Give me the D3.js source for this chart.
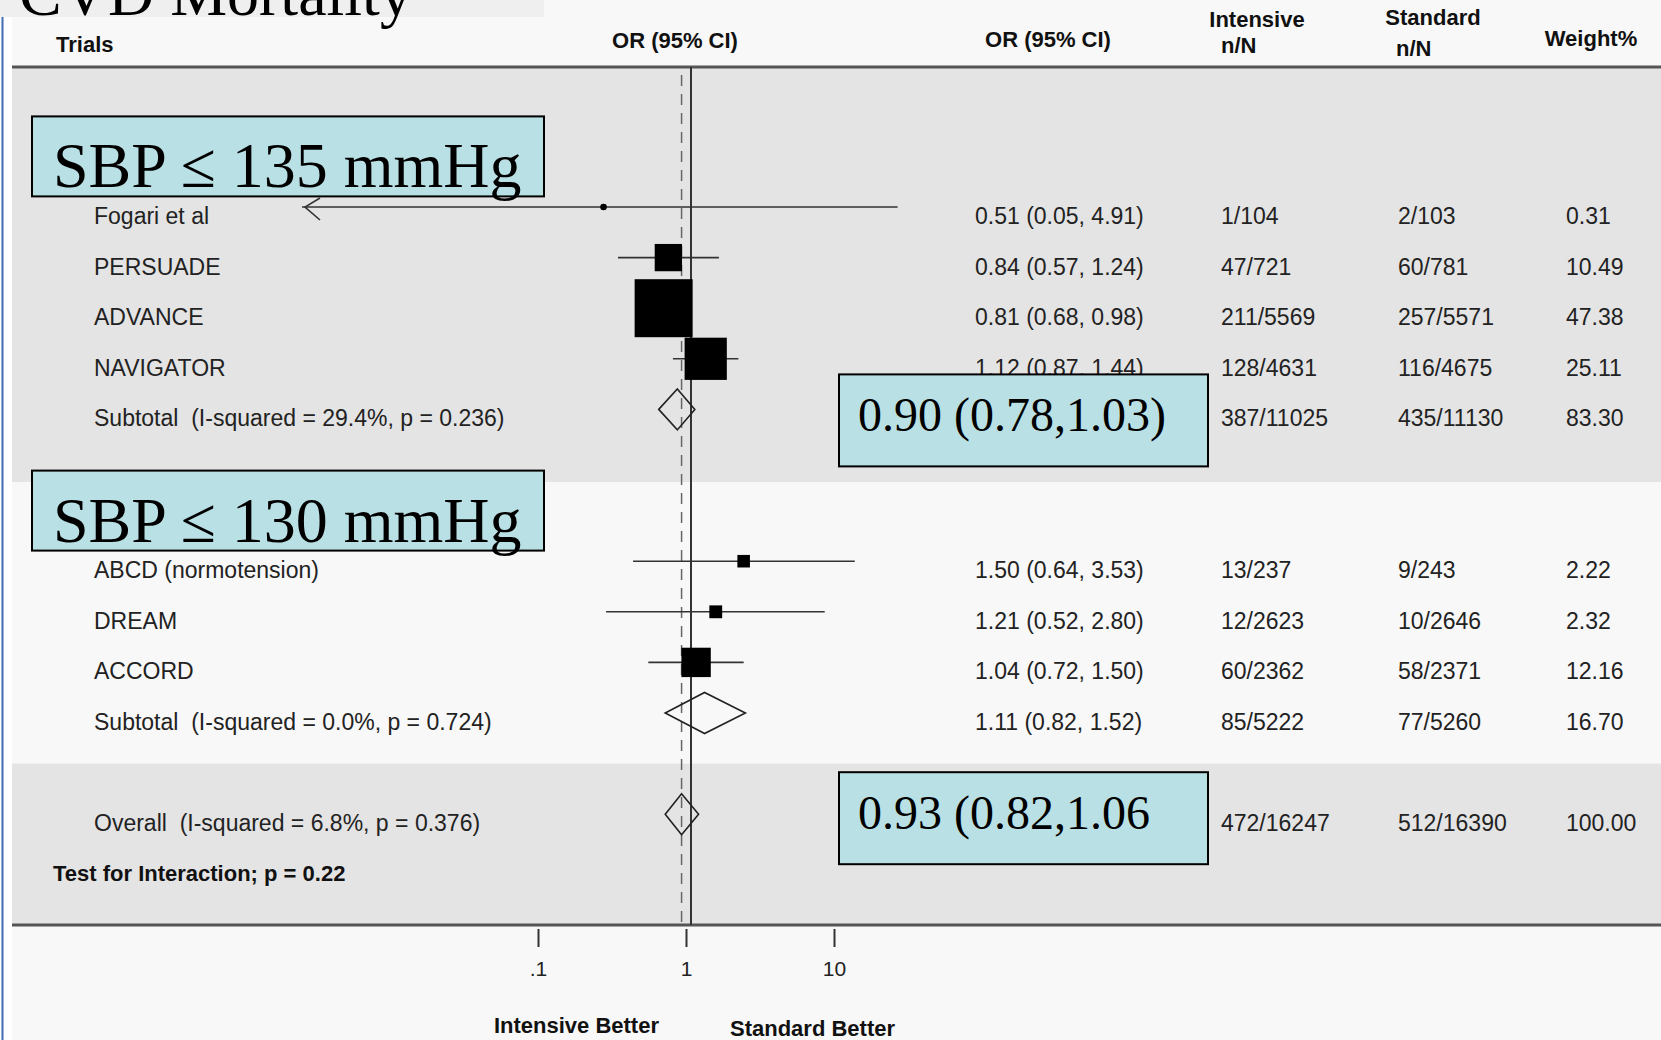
<!DOCTYPE html>
<html>
<head>
<meta charset="utf-8">
<script src="https://cdn.jsdelivr.net/npm/d3@7"></script>
<style>
body{margin:0;background:#fff;}
svg{display:block;}
text{white-space:pre;}
.lbl{font-family:'Liberation Sans',Arial,sans-serif;font-size:23px;fill:#222;}
.hdr{font-family:'Liberation Sans',Arial,sans-serif;font-size:22px;font-weight:bold;fill:#111;}
.serif{font-family:'Liberation Serif','Times New Roman',serif;fill:#000;}
</style>
</head>
<body>
<div id="chart"></div>
<script>
// trials, top to bottom
var trials = ['Fogari et al','PERSUADE','ADVANCE','NAVIGATOR','ABCD (normotension)','DREAM','ACCORD'];
var trialGroup = [0,0,0,0,1,1,1];
var orEst = [0.51,0.84,0.81,1.12,1.50,1.21,1.04];
var orLow = [0.05,0.57,0.68,0.87,0.64,0.52,0.72];
var orHigh = [4.91,1.24,0.98,1.44,3.53,2.80,1.50];
var intensiveN = ['1/104','47/721','211/5569','128/4631','13/237','12/2623','60/2362'];
var standardN = ['2/103','60/781','257/5571','116/4675','9/243','10/2646','58/2371'];
var weights = [0.31,10.49,47.38,25.11,2.22,2.32,12.16];

// pooled rows: subtotal 1, subtotal 2, overall
var pooledLabels = ['Subtotal  (I-squared = 29.4%, p = 0.236)','Subtotal  (I-squared = 0.0%, p = 0.724)','Overall  (I-squared = 6.8%, p = 0.376)'];
var pooledEst = [0.90,1.11,0.93];
var pooledLow = [0.78,0.82,0.82];
var pooledHigh = [1.03,1.52,1.06];
var pooledIntensive = ['387/11025','85/5222','472/16247'];
var pooledStandard = ['435/11130','77/5260','512/16390'];
var pooledWeight = [83.30,16.70,100.00];

var groupTitles = ['SBP \u2264 135 mmHg','SBP \u2264 130 mmHg'];
var callouts = ['0.90 (0.78,1.03)', null, '0.93 (0.82,1.06'];
var interactionText = 'Test for Interaction; p = 0.22';
var axisTicks = [0.1,1,10];
var tickLabels = ['.1','1','10'];

var W = 1661, H = 1040;
var svg = d3.select('#chart').append('svg').attr('width',W).attr('height',H);

// row order (spacer rows hold the group title boxes)
var rowKeys = ['g0','t0','t1','t2','t3','p0','gap','g1','t4','t5','t6','p1','gap2','p2','test'];
var y = d3.scalePoint().domain(rowKeys).range([156.4,864.8]);
var xData = d3.scaleLog().domain([0.1,10]).range([392,990]);
var xAxis = d3.scaleLog().domain([0.1,10]).range([538,834]);
var size = d3.scaleSqrt().domain([0,d3.max(weights)]).range([0,58]);
var fmt = d3.format('.2f');
var orText = function(e,l,h){ return fmt(e)+' ('+fmt(l)+', '+fmt(h)+')'; };

// backgrounds
svg.append('rect').attr('x',12).attr('y',0).attr('width',W-12).attr('height',H).attr('fill','#f8f8f8');
var headY = 67, axisY = 925;
svg.append('rect').attr('x',12).attr('y',headY).attr('width',W-12).attr('height',y('gap')+22-headY).attr('fill','#e4e4e4');
svg.append('rect').attr('x',12).attr('y',y('gap2')).attr('width',W-12).attr('height',axisY-y('gap2')).attr('fill','#e4e4e4');
svg.append('line').attr('x1',12).attr('x2',W).attr('y1',headY).attr('y2',headY).attr('stroke','#555').attr('stroke-width',3);
svg.append('line').attr('x1',12).attr('x2',W).attr('y1',axisY).attr('y2',axisY).attr('stroke','#555').attr('stroke-width',3);

// title strip
svg.append('rect').attr('x',0).attr('y',0).attr('width',544).attr('height',17).attr('fill','#efefef');
svg.append('text').attr('class','serif').attr('x',19).attr('y',15).attr('font-size',64).text('CVD Mortality');
svg.append('line').attr('x1',2.5).attr('x2',2.5).attr('y1',17).attr('y2',H).attr('stroke','#3f6cb5').attr('stroke-width',2);

// headers
svg.append('text').attr('class','hdr').attr('x',56).attr('y',52).text('Trials');
svg.append('text').attr('class','hdr').attr('x',675).attr('y',48).attr('text-anchor','middle').text('OR (95% CI)');
svg.append('text').attr('class','hdr').attr('x',1048).attr('y',47).attr('text-anchor','middle').text('OR (95% CI)');
svg.append('text').attr('class','hdr').attr('x',1257).attr('y',27).attr('text-anchor','middle').text('Intensive');
svg.append('text').attr('class','hdr').attr('x',1221).attr('y',53).text('n/N');
svg.append('text').attr('class','hdr').attr('x',1433).attr('y',25).attr('text-anchor','middle').text('Standard');
svg.append('text').attr('class','hdr').attr('x',1396).attr('y',56).text('n/N');
svg.append('text').attr('class','hdr').attr('x',1591).attr('y',46).attr('text-anchor','middle').text('Weight%');

// reference lines
svg.append('line').attr('x1',xData(1)).attr('x2',xData(1)).attr('y1',headY).attr('y2',axisY).attr('stroke','#333').attr('stroke-width',2);
svg.append('line').attr('x1',xData(pooledEst[2])).attr('x2',xData(pooledEst[2])).attr('y1',headY+8).attr('y2',axisY)
  .attr('stroke','#666').attr('stroke-width',1.5).attr('stroke-dasharray','11,8');

// trial rows
var rows = trials.map(function(t,i){
  return {label:t, key:'t'+i, est:orEst[i], lo:orLow[i], hi:orHigh[i], n1:intensiveN[i], n2:standardN[i], w:weights[i], g:trialGroup[i]};
});
var tr = svg.selectAll('g.trial').data(rows).enter().append('g').attr('class','trial');
tr.append('line').attr('x1',function(d){return xData(d.lo);}).attr('x2',function(d){return xData(d.hi);})
  .attr('y1',function(d){return y(d.key);}).attr('y2',function(d){return y(d.key);})
  .attr('stroke','#333').attr('stroke-width',1.6);
tr.filter(function(d){return d.lo < xData.domain()[0];}).append('path')
  .attr('d',function(d){var x0=xData(d.lo)+3, yy=y(d.key); return 'M'+(x0+15)+','+(yy-9)+'L'+x0+','+yy+'L'+(x0+15)+','+(yy+13);})
  .attr('fill','none').attr('stroke','#333').attr('stroke-width',1.6);
tr.append('rect').attr('x',function(d){return xData(d.est)-size(d.w)/2;}).attr('y',function(d){return y(d.key)-size(d.w)/2;})
  .attr('width',function(d){return size(d.w);}).attr('height',function(d){return size(d.w);}).attr('fill','#000');
tr.append('circle').attr('cx',function(d){return xData(d.est);}).attr('cy',function(d){return y(d.key);}).attr('r',3.3).attr('fill','#000');
tr.append('text').attr('class','lbl').attr('x',94).attr('y',function(d){return y(d.key)+17;}).text(function(d){return d.label;});
tr.append('text').attr('class','lbl').attr('x',975).attr('y',function(d){return y(d.key)+17;}).text(function(d){return orText(d.est,d.lo,d.hi);});
tr.append('text').attr('class','lbl').attr('x',1221).attr('y',function(d){return y(d.key)+17;}).text(function(d){return d.n1;});
tr.append('text').attr('class','lbl').attr('x',1398).attr('y',function(d){return y(d.key)+17;}).text(function(d){return d.n2;});
tr.append('text').attr('class','lbl').attr('x',1566).attr('y',function(d){return y(d.key)+17;}).text(function(d){return fmt(d.w);});

// pooled rows
var pooled = pooledLabels.map(function(t,i){
  return {label:t, key:'p'+i, est:pooledEst[i], lo:pooledLow[i], hi:pooledHigh[i], n1:pooledIntensive[i], n2:pooledStandard[i], w:pooledWeight[i], call:callouts[i]};
});
var pr = svg.selectAll('g.pooled').data(pooled).enter().append('g').attr('class','pooled');
pr.append('path').attr('d',function(d){
    var yy=y(d.key);
    return 'M'+xData(d.lo)+','+yy+'L'+xData(d.est)+','+(yy-20.5)+'L'+xData(d.hi)+','+yy+'L'+xData(d.est)+','+(yy+20.5)+'Z';
  }).attr('fill','none').attr('stroke','#222').attr('stroke-width',1.6);
pr.append('text').attr('class','lbl').attr('x',94).attr('y',function(d){return y(d.key)+17;}).text(function(d){return d.label;});
// OR text only where no callout box replaces it
pr.filter(function(d){return !d.call;}).append('text').attr('class','lbl').attr('x',975).attr('y',function(d){return y(d.key)+17;})
  .text(function(d){return orText(d.est,d.lo,d.hi);});
pr.append('text').attr('class','lbl').attr('x',1221).attr('y',function(d){return y(d.key)+17;}).text(function(d){return d.n1;});
pr.append('text').attr('class','lbl').attr('x',1398).attr('y',function(d){return y(d.key)+17;}).text(function(d){return d.n2;});
pr.append('text').attr('class','lbl').attr('x',1566).attr('y',function(d){return y(d.key)+17;}).text(function(d){return fmt(d.w);});

svg.append('text').attr('class','hdr').attr('x',53).attr('y',y('test')+16).attr('font-size',22).text(interactionText);

// axis
var ax = svg.append('g').attr('transform','translate(0,929)')
  .call(d3.axisBottom(xAxis).tickValues(axisTicks).tickFormat(function(d,i){return tickLabels[i];}).tickSize(18).tickPadding(14));
ax.select('.domain').remove();
ax.selectAll('.tick line').attr('stroke','#333').attr('stroke-width',2);
ax.selectAll('.tick text').attr('font-family',"'Liberation Sans',Arial,sans-serif").attr('font-size',21).attr('fill','#222');
svg.append('text').attr('class','hdr').attr('x',xAxis(1)-27).attr('y',1033).attr('text-anchor','end').text('Intensive Better');
svg.append('text').attr('class','hdr').attr('x',xAxis(1)+44).attr('y',1036).text('Standard Better');

// group title boxes
var gb = svg.selectAll('g.gbox').data(groupTitles).enter().append('g').attr('class','gbox');
gb.append('rect').attr('x',32).attr('y',function(d,i){return y('g'+i)-40;}).attr('width',512).attr('height',80)
  .attr('fill','#b9e0e4').attr('stroke','#000').attr('stroke-width',2);
gb.append('text').attr('class','serif').attr('x',53).attr('y',function(d,i){return y('g'+i)+31;}).attr('font-size',64).text(function(d){return d;});

// pooled estimate callouts
var calloutShift = {p0:-35, p2:-42};
var cb = svg.selectAll('g.callout').data(pooled.filter(function(d){return d.call;})).enter().append('g').attr('class','callout');
cb.append('rect').attr('x',839).attr('y',function(d){return y(d.key)+calloutShift[d.key];}).attr('width',369).attr('height',92)
  .attr('fill','#b9e0e4').attr('stroke','#000').attr('stroke-width',2);
cb.append('text').attr('class','serif').attr('x',858).attr('font-size',48)
  .attr('y',function(d){return y(d.key)+calloutShift[d.key]+57;}).text(function(d){return d.call;});
</script>
</body>
</html>
